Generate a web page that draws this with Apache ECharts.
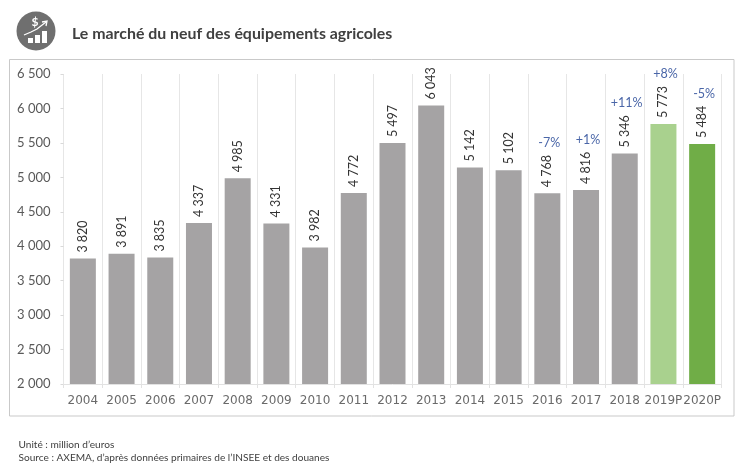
<!DOCTYPE html>
<html><head><meta charset="utf-8">
<style>html,body{margin:0;padding:0;background:#fff}#c{width:747px;height:472px}</style>
<script src="https://cdn.jsdelivr.net/npm/echarts@6/dist/echarts.min.js"></script>
</head><body><div id="c"></div>
<script>
const years = ['2004','2005','2006','2007','2008','2009','2010','2011','2012','2013','2014','2015','2016','2017','2018','2019P','2020P'];
const values = [3820,3891,3835,4337,4985,4331,3982,4772,5497,6043,5142,5102,4768,4816,5346,5773,5484];
const changes = [null,null,null,null,null,null,null,null,null,null,null,null,'-7%','+1%','+11%','+8%','-5%'];
const titleText = 'Le marché du neuf des équipements agricoles';
const noteUnit = 'Unité : million d’euros';
const noteSource = 'Source : AXEMA, d’après données primaires de l’INSEE et des douanes';
const barColors = {'2019P':'#a9d18e','2020P':'#70ad47'};
const fmt = v => String(v).replace(/\B(?=(\d{3})+$)/g,' ');
const FONT = 'Lato, "Open Sans", sans-serif';
const chart = echarts.init(document.getElementById('c'),null,{renderer:'canvas'});
chart.setOption({
  animation:false,
  backgroundColor:'#fff',
  grid:{left:63.5,right:25.5,top:74,bottom:88},
  xAxis:{type:'category',data:years,
    axisLine:{show:true,lineStyle:{color:'#e2e2e2'}},
    axisTick:{show:true,length:4,alignWithLabel:false,lineStyle:{color:'#e2e2e2'}},
    splitLine:{show:true,lineStyle:{color:'#e6e6e6',width:1}},
    axisLabel:{interval:0,margin:11,color:'#6a6a6a',fontFamily:'"DejaVu Sans"',fontSize:12}},
  yAxis:{type:'value',min:2000,max:6500,interval:500,
    axisLine:{show:false},
    axisTick:{show:true,length:3,lineStyle:{color:'#d9d9d9'}},
    splitLine:{show:false},
    axisLabel:{margin:13,color:'#595959',fontFamily:FONT,fontSize:13,formatter:v=>fmt(v)}},
  series:[
    {type:'bar',barWidth:26,barGap:'-100%',
     data:values.map((v,i)=>({value:v,itemStyle:{color:barColors[years[i]]||'#a5a3a4'}})),
     label:{show:true,position:'top',rotate:90,distance:6,color:'#333',fontFamily:FONT,fontSize:12.5,align:'left',verticalAlign:'middle',formatter:p=>fmt(p.value)}},
    {type:'bar',barWidth:26,barGap:'-100%',silent:true,
     data:values.map((v,i)=>changes[i]===null?null:v),
     itemStyle:{color:'rgba(0,0,0,0)'},
     label:{show:true,position:'top',distance:44,offset:[2,0],color:'#4a66a8',fontFamily:FONT,fontSize:12.5,formatter:p=>changes[p.dataIndex]}}
  ],
  graphic:[
    {type:'rect',silent:true,shape:{x:9.5,y:59.5,width:724.5,height:356.5},style:{fill:'none',stroke:'#c9c9c9',lineWidth:1},z:-1},
    {type:'circle',shape:{cx:36,cy:31,r:19.5},style:{fill:'#6f6f6f'}},
    {type:'rect',shape:{x:28,y:38,width:5,height:5},style:{fill:'#fff'}},
    {type:'rect',shape:{x:35,y:35,width:5,height:8},style:{fill:'#fff'}},
    {type:'rect',shape:{x:42,y:31,width:5,height:12},style:{fill:'#fff'}},
    {type:'polyline',shape:{points:[[24,35],[31,32],[37,29],[46,22]]},style:{fill:'none',stroke:'#fff',lineWidth:1.3}},
    {type:'polyline',shape:{points:[[42,22],[47,21],[46,26]]},style:{fill:'none',stroke:'#fff',lineWidth:1.3}},
    {type:'text',style:{x:35,y:22,text:'$',fill:'#fff',font:'bold 12px Lato',align:'center',verticalAlign:'middle'}},
    {type:'text',style:{x:72,y:34,text:titleText,fill:'#404040',font:'bold 15.9px Lato',verticalAlign:'middle'}},
    {type:'text',style:{x:18.5,y:445,text:noteUnit,fill:'#404040',font:'10.1px Lato',verticalAlign:'middle'}},
    {type:'text',style:{x:18.5,y:458,text:noteSource,fill:'#404040',font:'10.1px Lato',verticalAlign:'middle'}}
  ]
});
</script></body></html>
